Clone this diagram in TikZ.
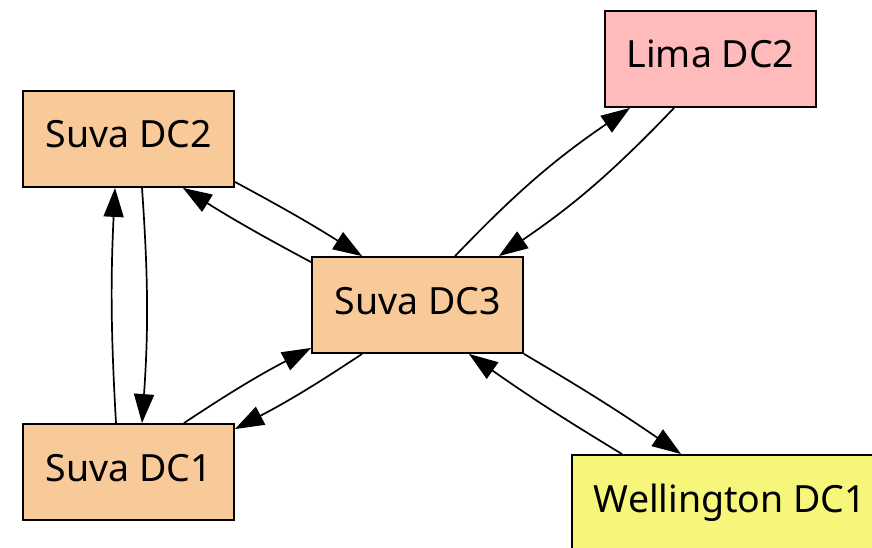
\documentclass[tikz,border=0pt]{standalone}
\usepackage{fontspec}
\setmainfont{Noto Sans}
\usetikzlibrary{arrows.meta}
\definecolor{suvafill}{HTML}{F8CA9A}
\definecolor{limafill}{HTML}{FFBBBB}
\definecolor{wellfill}{HTML}{F6F67A}
\tikzset{
  dcbox/.style={draw=black, line width=1.8pt, rectangle, inner sep=0pt,
    minimum width=211pt, minimum height=96pt,
    font=\fontsize{37.5}{42}\selectfont, text height=26pt, text depth=8pt},
  link/.style={draw=black, line width=1.7pt, -{Triangle[length=29pt,width=20pt]}}
}
\begin{document}
\begin{tikzpicture}[x=1pt, y=1pt]
  \useasboundingbox (0,0) rectangle (872,-548);
  \clip (0,0) rectangle (872,-548);
  \fill[white] (0,0) rectangle (872,-548);

  % data centre nodes
  \node[dcbox, fill=suvafill] (dc2) at (128.5,-139) {Suva DC2};
  \node[dcbox, fill=limafill] (lima) at (710.5,-59) {Lima DC2};
  \node[dcbox, fill=suvafill] (dc3) at (417.5,-305) {Suva DC3};
  \node[dcbox, fill=suvafill] (dc1) at (128.5,-472) {Suva DC1};
  \node[dcbox, fill=wellfill, minimum width=316pt] (well) at (730,-503) {Wellington DC1};

  % replication links, one per direction
  \draw[link] ([yshift=6pt]dc2.south east) to[bend left=2] ([xshift=51pt]dc3.north west);
  \draw[link] ([yshift=-6pt]dc3.north west) to[bend left=2] ([xshift=-52pt]dc2.south east);
  \draw[link] ([xshift=37.5pt]dc3.north) to[bend left=6] ([xshift=26pt]lima.south west);
  \draw[link] ([xshift=70pt]lima.south west) to[bend left=6] ([xshift=-25pt]dc3.north east);
  \draw[link] ([xshift=-51pt]dc1.north east) to[bend left=3] ([yshift=6pt]dc3.south west);
  \draw[link] ([xshift=51pt]dc3.south west) to[bend left=3] ([yshift=-6pt]dc1.north east);
  \draw[link] (dc3.south east) to[bend left=2] ([xshift=110pt]well.north west);
  \draw[link] ([xshift=51pt]well.north west) to[bend left=2] ([xshift=-55pt]dc3.south east);
  \draw[link] ([xshift=-12.5pt]dc1.north) to[bend left=3] ([xshift=-13.5pt]dc2.south);
  \draw[link] ([xshift=13.5pt]dc2.south) to[bend left=4] ([xshift=13.5pt]dc1.north);
\end{tikzpicture}
\end{document}
